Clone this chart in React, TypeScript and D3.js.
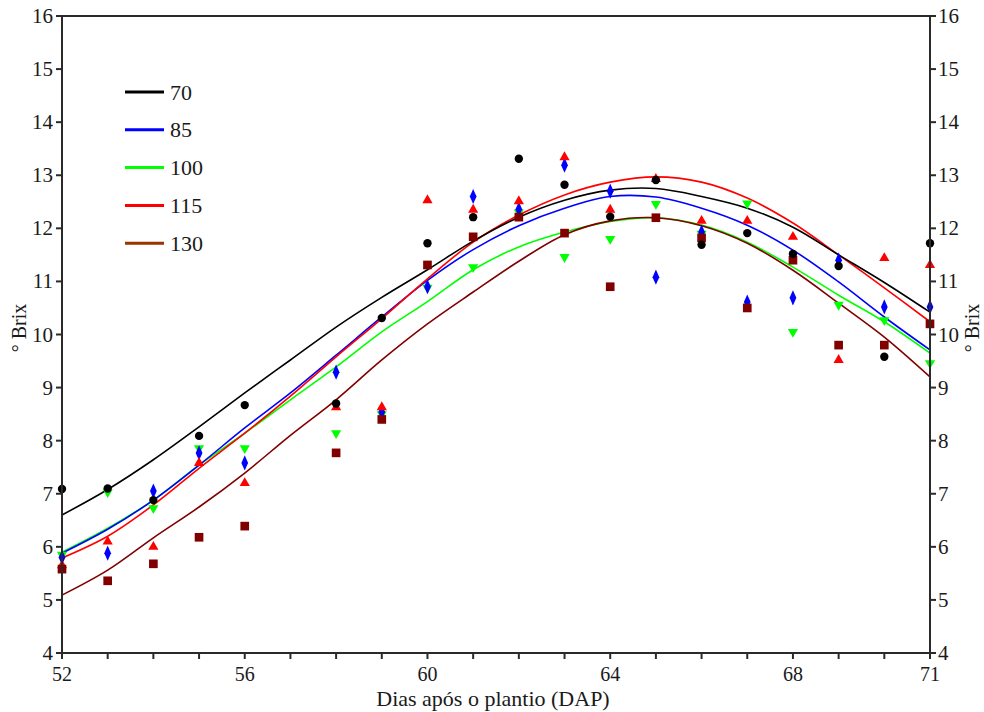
import React from "react";
import * as d3 from "d3";

const seriesNames = ["70", "85", "100", "115", "130"];
const seriesColors = ["#000000", "#0000ff", "#00ff00", "#ff0000", "#800000"];
const legendColors = ["#000000", "#0000ff", "#00ff00", "#ff0000", "#993300"];

const obsDays = [52, 53, 54, 55, 56, 58, 59, 60, 61, 62, 63, 64, 65, 66, 67, 68, 69, 70, 71];
const obs70 = [7.09, 7.1, 6.88, 8.09, 8.67, 8.7, 10.31, 11.72, 12.21, 13.31, 12.82, 12.22, 12.91, 11.69, 11.91, 11.52, 11.29, 9.58, 11.72];
const obs85 = [5.8, 5.88, 7.05, 7.77, 7.58, 9.29, 8.54, 10.9, 12.6, 12.36, 13.19, 12.7, 11.08, 11.93, 10.61, 10.69, 11.4, 10.52, 10.52];
const obs100 = [5.85, 7.03, 6.73, 7.86, 7.86, 8.14, 8.5, 10.88, 11.27, 12.3, 11.46, 11.8, 12.46, 11.9, 12.47, 10.05, 10.56, 10.27, 9.46];
const obs115 = [5.65, 6.1, 6.0, 7.58, 7.2, 8.63, 8.63, 12.53, 12.35, 12.51, 13.34, 12.35, 12.93, 12.14, 12.14, 11.84, 9.52, 11.44, 11.31];
const obs130 = [5.58, 5.36, 5.68, 6.18, 6.39, 7.77, 8.4, 11.31, 11.84, 12.21, 11.91, 10.9, 12.2, 11.82, 10.5, 11.4, 9.8, 9.8, 10.2];

const fitDays = [52, 53, 54, 55, 56, 57, 58, 59, 60, 61, 62, 63, 64, 65, 66, 67, 68, 69, 70, 71];
const fit70 = [6.6, 7.08, 7.64, 8.26, 8.9, 9.52, 10.14, 10.7, 11.22, 11.76, 12.21, 12.53, 12.72, 12.75, 12.6, 12.38, 12.02, 11.5, 10.98, 10.42];
const fit85 = [5.88, 6.33, 6.88, 7.54, 8.24, 8.9, 9.61, 10.33, 11.02, 11.6, 12.05, 12.38, 12.6, 12.59, 12.38, 12.06, 11.59, 10.99, 10.33, 9.71];
const fit100 = [5.9, 6.35, 6.88, 7.54, 8.14, 8.77, 9.39, 10.05, 10.62, 11.22, 11.65, 11.93, 12.13, 12.2, 12.06, 11.74, 11.27, 10.74, 10.24, 9.65];
const fit115 = [5.79, 6.2, 6.79, 7.48, 8.14, 8.84, 9.58, 10.3, 11.05, 11.74, 12.25, 12.63, 12.87, 12.97, 12.87, 12.57, 12.1, 11.5, 10.88, 10.24];
const fit130 = [5.09, 5.56, 6.17, 6.75, 7.39, 8.1, 8.77, 9.52, 10.2, 10.8, 11.38, 11.88, 12.14, 12.2, 12.05, 11.72, 11.21, 10.59, 9.95, 9.2];

const yTicks = [4, 5, 6, 7, 8, 9, 10, 11, 12, 13, 14, 15, 16];
const xTickLabels = [52, 56, 60, 64, 68, 71];
const xAxisTitle = "Dias após o plantio (DAP)";
const yAxisTitle = "° Brix";

const obsSeries = [obs70, obs85, obs100, obs115, obs130];
const fitSeries = [fit70, fit85, fit100, fit115, fit130];
const markerTypes = [d3.symbolCircle, d3.symbolDiamond, d3.symbolTriangle, d3.symbolTriangle, d3.symbolSquare];
const markerSizes = [55, 55, 45, 45, 75];
const markerRotate = [0, 0, 180, 0, 0];
// drawing order so overlaps look like the reference
const drawOrder = [2, 1, 3, 4, 0];

const FONT = "'Liberation Serif', 'Times New Roman', serif";

export default function App() {
  const left = 62, right = 930, top = 16, bottom = 653;
  const x = d3.scaleLinear().domain([52, 71]).range([left, right]);
  const y = d3.scaleLinear().domain([4, 16]).range([bottom, top]);
  const line = d3
    .line<number>()
    .x((_, i) => x(fitDays[i]))
    .y((v) => y(v))
    .curve(d3.curveCatmullRom.alpha(0.5));
  const allDays = d3.range(52, 72);
  const axisColor = "#2a2a2a";
  const textColor = "#1a1a1a";

  return (
    <svg
      width={984}
      height={712}
      style={{ position: "absolute", left: 0, top: 0, display: "block", background: "#fff" }}
      fontFamily={FONT}
    >
      <rect x={0} y={0} width={984} height={712} fill="#fff" />
      {/* curves */}
      {drawOrder.map((si) => (
        <path key={"f" + si} d={line(fitSeries[si]) || ""} fill="none" stroke={seriesColors[si]} strokeWidth={1.6} />
      ))}
      {/* points */}
      {drawOrder.map((si) => (
        <g key={"o" + si}>
          {obsSeries[si].map((v, i) => (
            <path
              key={i}
              d={d3.symbol().type(markerTypes[si]).size(markerSizes[si])() || ""}
              transform={`translate(${x(obsDays[i])},${y(v)}) rotate(${markerRotate[si]})${si === 1 ? " scale(0.85,1.1)" : ""}`}
              fill={seriesColors[si]}
            />
          ))}
        </g>
      ))}
      {/* frame */}
      <line x1={left} x2={right} y1={top} y2={top} stroke={axisColor} strokeWidth={2} />
      <line x1={left} x2={left} y1={top - 1} y2={bottom + 1} stroke={axisColor} strokeWidth={2} />
      <line x1={right} x2={right} y1={top - 1} y2={bottom + 1} stroke={axisColor} strokeWidth={2} />
      <line x1={left} x2={right} y1={bottom} y2={bottom} stroke={axisColor} strokeWidth={2} />
      {/* y ticks */}
      {yTicks.map((t) => (
        <g key={"y" + t}>
          <line x1={left - 6} x2={left} y1={y(t)} y2={y(t)} stroke={axisColor} strokeWidth={2} />
          <line x1={right} x2={right + 6} y1={y(t)} y2={y(t)} stroke={axisColor} strokeWidth={2} />
          <text x={left - 9} y={y(t)} textAnchor="end" dominantBaseline="central" fontSize={21} fill={textColor}>
            {t}
          </text>
          <text x={right + 8} y={y(t)} textAnchor="start" dominantBaseline="central" fontSize={21} fill={textColor}>
            {t}
          </text>
        </g>
      ))}
      {/* x ticks */}
      {allDays.map((d) => (
        <line key={"xt" + d} x1={x(d)} x2={x(d)} y1={bottom} y2={bottom + 6} stroke={axisColor} strokeWidth={2} />
      ))}
      {xTickLabels.map((d) => (
        <text key={"xl" + d} x={x(d)} y={674} textAnchor="middle" dominantBaseline="central" fontSize={20} fill={textColor}>
          {d}
        </text>
      ))}
      <text x={(left + right) / 2 - 3} y={698} textAnchor="middle" dominantBaseline="central" fontSize={22} fill={textColor}>
        {xAxisTitle}
      </text>
      <text
        transform={`translate(19,328) rotate(-90)`}
        textAnchor="middle"
        dominantBaseline="central"
        fontSize={20}
        fill={textColor}
      >
        {yAxisTitle}
      </text>
      <text
        transform={`translate(972,328) rotate(-90)`}
        textAnchor="middle"
        dominantBaseline="central"
        fontSize={20}
        fill={textColor}
      >
        {yAxisTitle}
      </text>
      {/* legend */}
      {seriesNames.map((n, i) => {
        const ly = 92 + i * 37.8;
        return (
          <g key={"lg" + n}>
            <line x1={125} x2={164} y1={ly} y2={ly} stroke={legendColors[i]} strokeWidth={3} />
            <text x={170} y={ly} dominantBaseline="central" fontSize={22} fill={textColor}>
              {n}
            </text>
          </g>
        );
      })}
    </svg>
  );
}
